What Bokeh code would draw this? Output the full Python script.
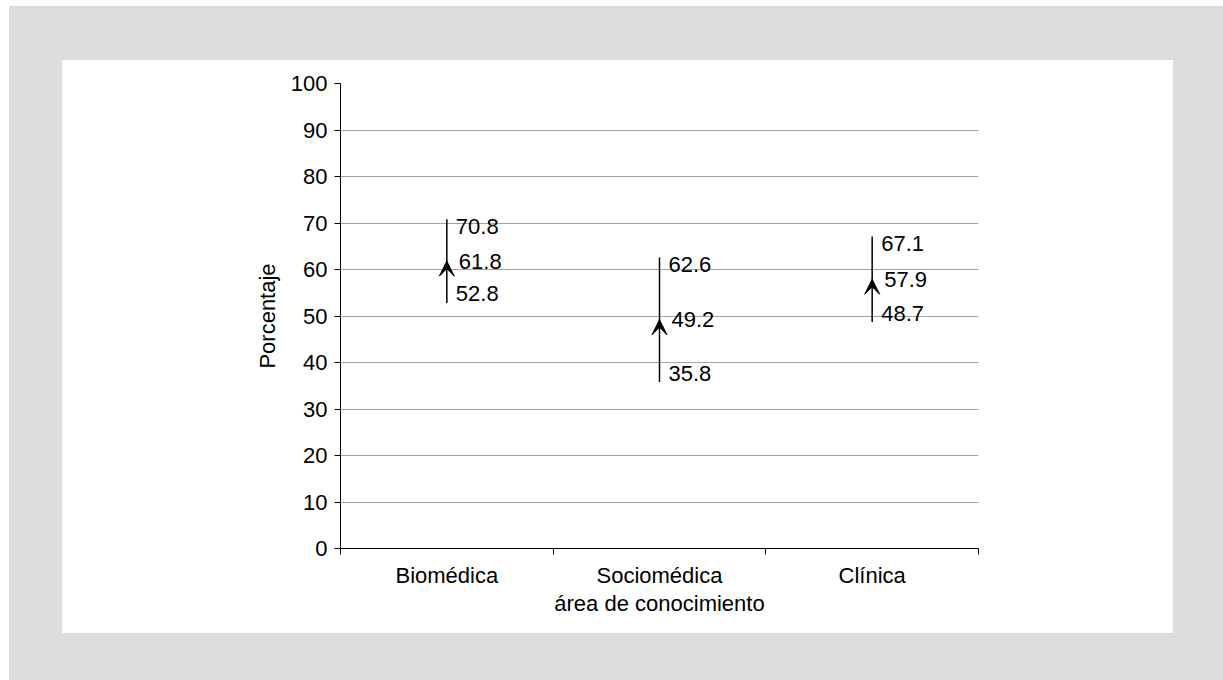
from bokeh.plotting import figure
from bokeh.models import ColumnDataSource, Range1d, FixedTicker, Arrow, VeeHead
from bokeh.core.properties import value
from bokeh.embed import file_html
from bokeh.resources import INLINE

# ---- data ----
categories = ["Biomédica", "Sociomédica", "Clínica"]
mean_vals = [61.8, 49.2, 57.9]
lower_vals = [52.8, 35.8, 48.7]
upper_vals = [70.8, 62.6, 67.1]
y_ticks = list(range(0, 101, 10))
y_label = "Porcentaje"
x_label = "área de conocimiento"

FONT = "Liberation Sans"
GRAY = "#dcdddf"
xpos = [i + 0.5 for i in range(len(categories))]

src = ColumnDataSource(dict(
    x=xpos, cat=categories, mean=mean_vals, lo=lower_vals, hi=upper_vals,
    mean_t=[f"{v:.1f}" for v in mean_vals],
    lo_t=[f"{v:.1f}" for v in lower_vals],
    hi_t=[f"{v:.1f}" for v in upper_vals],
))

p = figure(width=1223, height=680, output_backend="svg", toolbar_location=None,
           x_range=Range1d(0, len(categories)), y_range=Range1d(0, 100),
           min_border_left=340, min_border_right=245, min_border_top=83,
           min_border_bottom=132)
p.border_fill_color = None
p.background_fill_color = "white"
p.outline_line_color = None
# outer grey card with inner white panel, painted behind the (transparent) canvas border
p.styles = {
    "background": (f"linear-gradient(white, white) 62px 60px / 1111px 573px no-repeat, "
                   f"linear-gradient({GRAY}, {GRAY}) 9px 6px / 1214px 674px no-repeat, white")
}

# grid
p.xgrid.grid_line_color = None
p.ygrid.grid_line_color = "#a3a3a3"
p.ygrid.grid_line_width = 1
p.ygrid.ticker = FixedTicker(ticks=y_ticks)

# y axis
p.yaxis.ticker = FixedTicker(ticks=y_ticks)
p.yaxis.axis_line_color = "black"
p.yaxis.major_tick_line_color = "black"
p.yaxis.major_tick_out = 6
p.yaxis.major_tick_in = 0
p.yaxis.minor_tick_line_color = None
p.yaxis.major_label_standoff = 7
p.yaxis.major_label_text_font = FONT
p.yaxis.major_label_text_font_size = "22px"
p.yaxis.major_label_text_color = "black"
p.yaxis.axis_label = y_label
p.yaxis.axis_label_text_font = FONT
p.yaxis.axis_label_text_font_size = "22px"
p.yaxis.axis_label_text_font_style = "normal"
p.yaxis.axis_label_text_color = "black"
p.yaxis.axis_label_standoff = 8

# x axis
p.xaxis.ticker = FixedTicker(ticks=xpos, minor_ticks=list(range(len(categories) + 1)))
p.xaxis.major_label_overrides = {x: c for x, c in zip(xpos, categories)}
p.xaxis.axis_line_color = "black"
p.xaxis.major_tick_line_color = None
p.xaxis.major_tick_out = 0
p.xaxis.major_tick_in = 0
p.xaxis.minor_tick_line_color = "black"
p.xaxis.minor_tick_out = 6
p.xaxis.minor_tick_in = 0
p.xaxis.major_label_standoff = 8
p.xaxis.major_label_text_font = FONT
p.xaxis.major_label_text_font_size = "22px"
p.xaxis.major_label_text_color = "black"
p.xaxis.axis_label = x_label
p.xaxis.axis_label_text_font = FONT
p.xaxis.axis_label_text_font_size = "22px"
p.xaxis.axis_label_text_font_style = "normal"
p.xaxis.axis_label_text_color = "black"
p.xaxis.axis_label_standoff = 0

# range bars
p.segment(x0="x", y0="lo", x1="x", y1="hi", source=src, line_color="black", line_width=1.5)
p.add_layout(Arrow(x_start="x", y_start="lo", x_end="x", y_end="mean", source=src,
                   line_alpha=0, end=VeeHead(size=15, fill_color="black",
                                             line_color="black", line_width=1)))

common = dict(source=src, text_font=value(FONT), text_font_size="22px", text_color="black",
              text_align="left", text_baseline="middle")
p.text(x="x", y="hi", text="hi_t", y_offset=7, x_offset=9, **common)
p.text(x="x", y="mean", text="mean_t", y_offset=0, x_offset=12, **common)
p.text(x="x", y="lo", text="lo_t", y_offset=-9, x_offset=9, **common)

open("out.html", "w").write(file_html(p, INLINE))
